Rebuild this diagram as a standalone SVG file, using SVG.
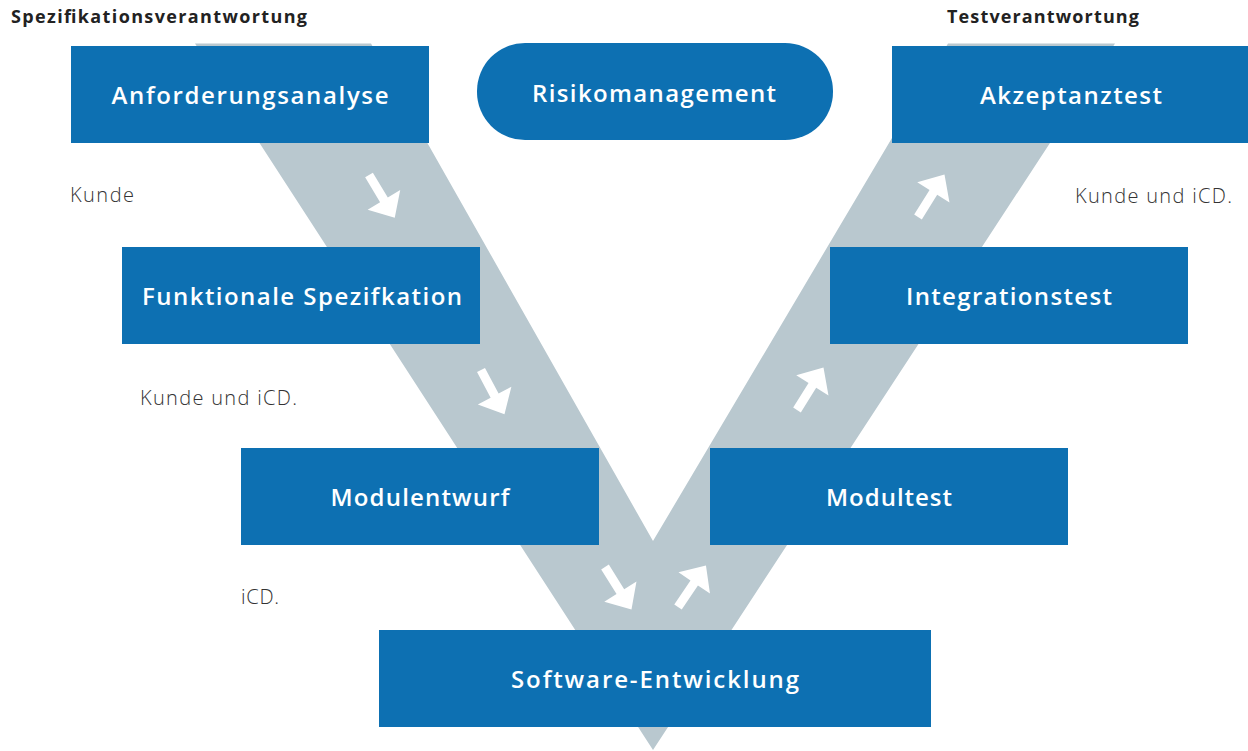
<svg xmlns="http://www.w3.org/2000/svg" width="1248" height="751" viewBox="0 0 1248 751">
  <style>
    .box { fill: #0d70b2; }
    .lbl { fill: #ffffff; font-family: "Open Sans", "Liberation Sans", sans-serif; font-weight: 600; font-size: 24px; text-anchor: middle; }
    .hdr { fill: #222222; font-family: "Open Sans", "Liberation Sans", sans-serif; font-weight: 700; font-size: 18px; }
    .side { fill: #333333; font-family: "Open Sans", "Liberation Sans", sans-serif; font-weight: 300; font-size: 20px; }
    .band { fill: #b9c8cf; }
    .arr { fill: #ffffff; }
  </style>
  <defs>
    <polygon id="arrow" points="0,-4.5 29,-4.5 29,-19 50,0 29,19 29,4.5 0,4.5"/>
  </defs>
  <rect width="1248" height="751" fill="#ffffff"/>

  <g id="band">
    <polygon class="band" points="195,43.5 371,43.5 653,541 948,43.5 1115,43.5 653,750"/>
  </g>

  <g id="headers">
    <text class="hdr" x="11" y="23" textLength="296" lengthAdjust="spacing">Spezifikationsverantwortung</text>
    <text class="hdr" x="947" y="23" textLength="192" lengthAdjust="spacing">Testverantwortung</text>
  </g>

  <g id="node-anforderungsanalyse">
    <rect class="box" x="71" y="46" width="358" height="97"/>
    <text class="lbl" x="250" y="104" textLength="277" lengthAdjust="spacing">Anforderungsanalyse</text>
  </g>
  <g id="node-risikomanagement">
    <rect class="box" x="477" y="43" width="356" height="97" rx="48" ry="48"/>
    <text class="lbl" x="654" y="102" textLength="244" lengthAdjust="spacing">Risikomanagement</text>
  </g>
  <g id="node-akzeptanztest">
    <rect class="box" x="892" y="46" width="358" height="97"/>
    <text class="lbl" x="1071" y="104" textLength="182" lengthAdjust="spacing">Akzeptanztest</text>
  </g>
  <g id="node-funktionale-spezifikation">
    <rect class="box" x="122" y="247" width="358" height="97"/>
    <text class="lbl" x="302" y="305" textLength="320" lengthAdjust="spacing">Funktionale Spezifkation</text>
  </g>
  <g id="node-integrationstest">
    <rect class="box" x="830" y="247" width="358" height="97"/>
    <text class="lbl" x="1009" y="305" textLength="206" lengthAdjust="spacing">Integrationstest</text>
  </g>
  <g id="node-modulentwurf">
    <rect class="box" x="241" y="448" width="358" height="97"/>
    <text class="lbl" x="420" y="506" textLength="179" lengthAdjust="spacing">Modulentwurf</text>
  </g>
  <g id="node-modultest">
    <rect class="box" x="710" y="448" width="358" height="97"/>
    <text class="lbl" x="889" y="506" textLength="126" lengthAdjust="spacing">Modultest</text>
  </g>
  <g id="node-software-entwicklung">
    <rect class="box" x="379" y="630" width="552" height="97"/>
    <text class="lbl" x="655" y="688" textLength="288" lengthAdjust="spacing">Software-Entwicklung</text>
  </g>

  <g id="side-labels">
    <text class="side" x="70" y="202" textLength="64" lengthAdjust="spacing">Kunde</text>
    <text class="side" x="140" y="405" textLength="157" lengthAdjust="spacing">Kunde und iCD.</text>
    <text class="side" x="1075" y="203" textLength="157" lengthAdjust="spacing">Kunde und iCD.</text>
    <text class="side" x="241" y="604" textLength="38" lengthAdjust="spacing">iCD.</text>
  </g>

  <g id="connectors">
    <use href="#arrow" class="arr" transform="translate(369,175) rotate(59)"/>
    <use href="#arrow" class="arr" transform="translate(481,370) rotate(62)"/>
    <use href="#arrow" class="arr" transform="translate(605,567) rotate(58)"/>
    <use href="#arrow" class="arr" transform="translate(678,607) rotate(-56)"/>
    <use href="#arrow" class="arr" transform="translate(797,410) rotate(-58)"/>
    <use href="#arrow" class="arr" transform="translate(918,217) rotate(-58)"/>
  </g>
</svg>
